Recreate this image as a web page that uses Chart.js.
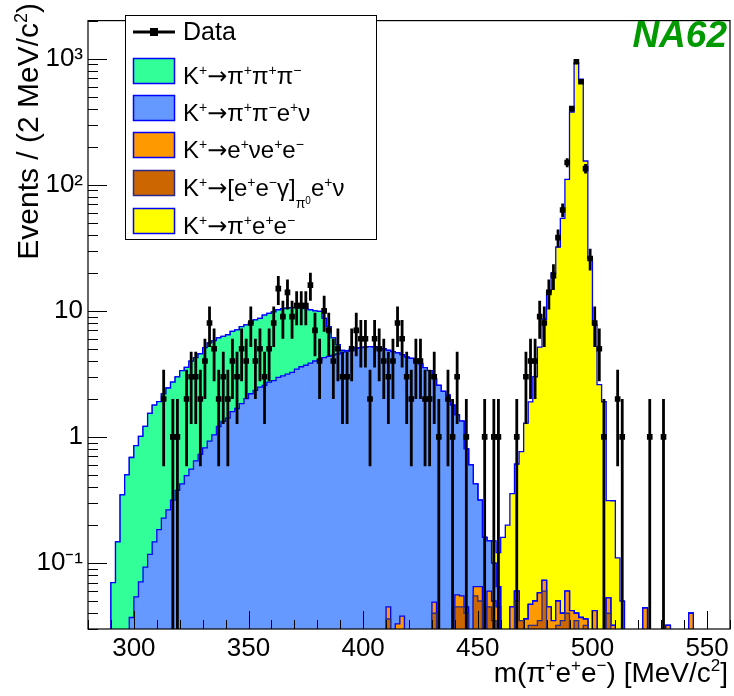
<!DOCTYPE html>
<html>
<head>
<meta charset="utf-8">
<script src="https://cdn.jsdelivr.net/npm/chart.js@4.4.1/dist/chart.umd.min.js"></script>
<style>
  html, body { margin: 0; padding: 0; background: #fff; }
</style>
</head>
<body>
<canvas id="massChart" width="734" height="696"></canvas>
<script>
const FONT = '"Liberation Sans", Arial, Helvetica, sans-serif';
const ARROW_FONT = '"DejaVu Sans", sans-serif';

// histogram binning: 2 MeV bins from 280 to 560
const binLow = 280;
const binWidth = 2;
const nBins = 140;

// data counts per bin
const dataCounts = [
  0, 0, 0, 0, 0, 0, 0, 0, 0, 0,
  0, 0, 0, 0, 0, 0, 2, 0, 1, 1,
  0, 2, 3, 3, 2, 4, 8, 5, 2, 3,
  2, 4, 3, 5, 4, 8, 4, 5, 3, 5,
  8, 15, 9, 14, 9, 11, 11, 11, 16, 7,
  4, 10, 7, 4, 5, 3, 3, 5, 7, 6,
  6, 2, 6, 5, 4, 3, 4, 8, 6, 3,
  2, 4, 4, 2, 2, 3, 1, 0, 2, 1,
  3, 0, 1, 0, 0, 0, 1, 0, 1, 1,
  0, 0, 0, 1, 0, 3, 4, 4, 9, 8,
  14, 19, 38, 63, 150, 401, 944, 655, 134, 26,
  8, 5, 1, 0, 0, 2, 1, 0, 0, 0,
  0, 0, 1, 0, 0, 1, 0, 0, 0, 0,
  0, 0, 0, 0, 0, 0, 0, 0, 0, 0
];

// K+ -> pi+ pi+ pi-
const k3pi = [
  0, 0, 0, 0, 0, 0.07, 0.147, 0.347, 0.50, 0.65,
  0.80, 0.94, 1.12, 1.42, 1.64, 1.72, 1.97, 2.18, 2.40, 2.62,
  2.93, 3.07, 3.44, 3.61, 3.84, 4.28, 4.65, 4.76, 4.89, 4.94,
  5.05, 5.27, 5.39, 5.66, 5.73, 5.78, 6.13, 6.24, 6.69, 6.83,
  7.00, 7.23, 7.35, 7.35, 7.35, 7.15, 6.90, 6.70, 6.35, 6.00,
  5.80, 4.45, 3.15, 1.65, 0.85, 0.15, 0, 0, 0, 0,
  0, 0, 0, 0, 0, 0, 0, 0, 0, 0,
  0, 0, 0, 0, 0, 0, 0, 0, 0, 0,
  0, 0, 0, 0, 0, 0, 0, 0, 0, 0,
  0, 0, 0, 0, 0, 0, 0, 0, 0, 0,
  0, 0, 0, 0, 0, 0, 0, 0, 0, 0,
  0, 0, 0, 0, 0, 0, 0, 0, 0, 0,
  0, 0, 0, 0, 0, 0, 0, 0, 0, 0,
  0, 0, 0, 0, 0, 0, 0, 0, 0, 0
];

// K+ -> pi+ pi- e+ nu
const kpipienu = [
  0, 0, 0, 0, 0, 0, 0, 0, 0, 0.037,
  0.054, 0.071, 0.093, 0.117, 0.147, 0.184, 0.227, 0.264, 0.315, 0.377,
  0.425, 0.494, 0.556, 0.646, 0.728, 0.82, 0.925, 1.04, 1.21, 1.33,
  1.41, 1.59, 1.68, 1.84, 2.01, 2.2, 2.34, 2.48, 2.56, 2.72,
  2.80, 2.97, 3.05, 3.15, 3.25, 3.45, 3.6, 3.7, 3.85, 4.0,
  4.1, 4.25, 4.35, 4.45, 4.55, 4.7, 4.8, 4.95, 5.05, 5.1,
  5.15, 5.2, 5.15, 5.1, 5.0, 4.81, 4.75, 4.6, 4.45, 4.3,
  4.2, 4.0, 3.8, 3.55, 3.35, 2.85, 2.56, 2.3, 2.14, 1.79,
  1.44, 1.28, 0.76, 0.6, 0.36, 0.25, 0.16, 0.09, 0.05, 0.02,
  0.01, 0.01, 0, 0, 0, 0, 0, 0, 0, 0,
  0, 0, 0, 0, 0, 0, 0, 0, 0, 0,
  0, 0, 0, 0, 0, 0, 0, 0, 0, 0,
  0, 0, 0, 0, 0, 0, 0, 0, 0, 0,
  0, 0, 0, 0, 0, 0, 0, 0, 0, 0
];

// K+ -> e+ nu e+ e-
const kenuee = [
  0, 0, 0, 0, 0, 0, 0, 0, 0, 0,
  0, 0, 0, 0, 0, 0, 0, 0, 0, 0,
  0, 0, 0, 0, 0, 0, 0, 0, 0, 0,
  0, 0, 0, 0, 0, 0, 0, 0, 0, 0,
  0, 0, 0, 0, 0, 0, 0, 0, 0, 0,
  0, 0, 0, 0, 0, 0, 0, 0, 0, 0,
  0, 0, 0, 0, 0, 0.009, 0, 0.033, 0.038, 0,
  0, 0, 0, 0, 0, 0.009, 0, 0, 0, 0,
  0.011, 0.01, 0.005, 0, 0.01, 0.015, 0, 0.015, 0.015, 0.045,
  0, 0, 0.045, 0.01, 0, 0.036, 0.015, 0.018, 0.023, 0.013,
  0.045, 0.035, 0.018, 0.005, 0.02, 0.042, 0.005, 0.037, 0.004, 0,
  0.042, 0, 0, 0.013, 0.032, 0, 0, 0, 0, 0,
  0, 0.044, 0, 0, 0, 0, 0.032, 0, 0, 0,
  0, 0.04, 0, 0, 0, 0, 0, 0, 0, 0
];

// K+ -> [e+ e- gamma]_pi0 e+ nu
const kpi0d = [
  0, 0, 0, 0, 0, 0, 0, 0, 0, 0,
  0, 0, 0, 0, 0, 0, 0, 0, 0, 0,
  0, 0, 0, 0, 0, 0, 0, 0, 0, 0,
  0, 0, 0, 0, 0, 0, 0, 0, 0, 0,
  0, 0, 0, 0, 0, 0, 0, 0, 0, 0,
  0, 0, 0, 0, 0, 0, 0, 0, 0, 0,
  0, 0, 0, 0, 0, 0.036, 0, 0, 0, 0,
  0, 0, 0, 0, 0, 0.04, 0, 0, 0, 0,
  0.045, 0.045, 0.04, 0, 0.055, 0.05, 0, 0.045, 0.035, 0,
  0, 0, 0, 0.05, 0.035, 0, 0.032, 0.032, 0.035, 0.06,
  0, 0, 0.032, 0.035, 0.04, 0, 0.035, 0, 0.032, 0,
  0, 0, 0, 0.04, 0, 0, 0, 0, 0, 0,
  0, 0, 0, 0, 0, 0, 0, 0, 0, 0,
  0, 0, 0, 0, 0, 0, 0, 0, 0, 0
];

// K+ -> pi+ e+ e- (signal)
const kpiee = [
  0, 0, 0, 0, 0, 0, 0, 0, 0, 0,
  0, 0, 0, 0, 0, 0, 0, 0, 0, 0,
  0, 0, 0, 0, 0, 0, 0, 0, 0, 0,
  0, 0, 0, 0, 0, 0, 0, 0, 0, 0,
  0, 0, 0, 0, 0, 0, 0, 0, 0, 0,
  0, 0, 0, 0, 0, 0, 0, 0, 0, 0,
  0, 0, 0, 0, 0, 0, 0, 0, 0, 0,
  0, 0, 0, 0, 0, 0, 0, 0, 0, 0,
  0, 0, 0, 0, 0, 0, 0, 0, 0.05, 0.056,
  0.15, 0.19, 0.31, 0.55, 0.73, 1.25, 1.85, 2.95, 5.1, 8.5,
  14, 20, 32, 54, 110, 377, 925, 688, 154, 26,
  7.7, 2.6, 1.9, 0.26, 0.28, 0.11, 0.05, 0, 0, 0,
  0, 0, 0, 0, 0, 0, 0, 0, 0, 0,
  0, 0, 0, 0, 0, 0, 0, 0, 0, 0
];

const xTickValues = [300, 350, 400, 450, 500, 550];
const yTickValues = [0.1, 1, 10, 100, 1000];
const yTickLabels = ['10\u207B\u00B9', '1', '10', '10\u00B2', '10\u00B3'];

// stack order bottom -> top (like THStack)
const layers = [kpi0d, kenuee, kpipienu, k3pi, kpiee];
let running = new Array(nBins).fill(0);
const cumulative = layers.map(arr => (running = running.map((v, i) => v + arr[i])));

const FLOOR = 1e-4; // below axis minimum, keeps log scale happy
function histPoints(vals) {
  const pts = vals.map((v, i) => ({ x: binLow + i * binWidth, y: Math.max(v, FLOOR) }));
  pts.push({ x: binLow + nBins * binWidth, y: Math.max(vals[nBins - 1], FLOOR) });
  return pts;
}

function histDataset(vals, fillColor, lineColor) {
  return {
    data: histPoints(vals),
    stepped: true,
    fill: 'start',
    backgroundColor: fillColor,
    borderColor: lineColor,
    borderWidth: 1.3,
    pointRadius: 0,
    tension: 0
  };
}

const dataPoints = dataCounts
  .map((n, i) => ({ x: binLow + binWidth * (i + 0.5), y: n }))
  .filter(p => p.y > 0);

// superscript / subscript text like ROOT's TLatex
// level: 0 normal, 1 superscript, -1 subscript, 2 superscript of subscript
const SCRIPT = { 0: [1, 0], 1: [0.6, -0.38], [-1]: [0.58, 0.52], 2: [0.42, 0.34] };
function partFont(size, l, fam) {
  return Math.round(size * SCRIPT[l][0]) + 'px ' + (fam || FONT);
}
function richWidth(ctx, parts, size) {
  let w = 0;
  parts.forEach(([t, l, fam]) => {
    ctx.font = partFont(size, l, fam);
    w += ctx.measureText(t).width;
  });
  return w;
}
function drawRich(ctx, parts, x, y, size, align) {
  let cx = align === 'right' ? x - richWidth(ctx, parts, size) : x;
  ctx.textAlign = 'left';
  ctx.textBaseline = 'alphabetic';
  parts.forEach(([t, l, fam]) => {
    ctx.font = partFont(size, l, fam);
    ctx.fillText(t, cx, y + SCRIPT[l][1] * size);
    cx += ctx.measureText(t).width;
  });
}

const ARROW = ['\u2192', 0, ARROW_FONT];
const legendRows = [
  { parts: [['K', 0], ['+', 1], ARROW, ['\u03C0', 0], ['+', 1], ['\u03C0', 0], ['+', 1], ['\u03C0', 0], ['\u2212', 1]], fill: '#33ff99', line: '#0000ff' },
  { parts: [['K', 0], ['+', 1], ARROW, ['\u03C0', 0], ['+', 1], ['\u03C0', 0], ['\u2212', 1], ['e', 0], ['+', 1], ['\u03BD', 0]], fill: '#6699ff', line: '#0000ff' },
  { parts: [['K', 0], ['+', 1], ARROW, ['e', 0], ['+', 1], ['\u03BDe', 0], ['+', 1], ['e', 0], ['\u2212', 1]], fill: '#ff9900', line: '#0000ff' },
  { parts: [['K', 0], ['+', 1], ARROW, ['[e', 0], ['+', 1], ['e', 0], ['\u2212', 1], ['\u03B3]', 0], ['\u03C0', -1], ['0', 2], ['e', 0], ['+', 1], ['\u03BD', 0]], fill: '#cc6600', line: '#2a2a8a' },
  { parts: [['K', 0], ['+', 1], ARROW, ['\u03C0', 0], ['+', 1], ['e', 0], ['+', 1], ['e', 0], ['\u2212', 1]], fill: '#ffff00', line: '#0000ff' }
];

const rootPlugin = {
  id: 'rootStyle',
  afterDatasetsDraw(chart) {
    const { ctx, chartArea: a, scales: { x, y } } = chart;
    ctx.save();
    // error bars
    ctx.beginPath();
    ctx.rect(a.left, a.top, a.right - a.left, a.bottom - a.top);
    ctx.clip();
    ctx.strokeStyle = '#000';
    ctx.lineWidth = 2.8;
    ctx.beginPath();
    dataPoints.forEach(p => {
      const e = Math.sqrt(p.y);
      const px = x.getPixelForValue(p.x);
      const top = y.getPixelForValue(p.y + e);
      const bot = p.y - e > 0 ? y.getPixelForValue(p.y - e) : a.bottom + 2;
      ctx.moveTo(px, top); ctx.lineTo(px, bot);
      const py = y.getPixelForValue(p.y);
      ctx.moveTo(x.getPixelForValue(p.x - binWidth / 2), py);
      ctx.lineTo(x.getPixelForValue(p.x + binWidth / 2), py);
    });
    ctx.stroke();
    ctx.restore();

    // ticks inside the frame
    ctx.save();
    ctx.strokeStyle = '#000';
    ctx.lineWidth = 1;
    ctx.beginPath();
    for (let v = 280; v <= 560; v += 10) {
      const px = Math.round(x.getPixelForValue(v)) + 0.5;
      const len = v % 50 === 0 ? 18 : 9;
      ctx.moveTo(px, a.bottom); ctx.lineTo(px, a.bottom - len);
    }
    for (let e = -2; e <= 3; e++) {
      for (let k = 1; k <= 9; k++) {
        const v = k * Math.pow(10, e);
        if (v < y.min || v > y.max) continue;
        const py = Math.round(y.getPixelForValue(v)) + 0.5;
        ctx.moveTo(a.left, py); ctx.lineTo(a.left + (k === 1 ? 19 : 10), py);
      }
    }
    ctx.stroke();
    ctx.lineWidth = 1.2;
    ctx.strokeRect(a.left, a.top, a.right - a.left, a.bottom - a.top);
    ctx.restore();
  },
  afterDraw(chart) {
    const { ctx } = chart;
    ctx.save();
    ctx.fillStyle = '#000';

    // axis titles
    drawRich(ctx, [['m(\u03C0', 0], ['+', 1], ['e', 0], ['+', 1], ['e', 0], ['\u2212', 1], [') [MeV/c', 0], ['2', 1], [']', 0]], 728, 682, 28, 'right');
    ctx.save();
    ctx.translate(38, 3);
    ctx.rotate(-Math.PI / 2);
    drawRich(ctx, [['Events / (2 MeV/c', 0], ['2', 1], [')', 0]], 0, 0, 30, 'right');
    ctx.restore();

    // legend box
    ctx.fillStyle = '#fff';
    ctx.fillRect(125, 15, 252, 225);
    ctx.strokeStyle = '#000';
    ctx.lineWidth = 1;
    ctx.strokeRect(125.5, 15.5, 251, 224);

    ctx.lineWidth = 2.8;
    ctx.beginPath();
    ctx.moveTo(133, 32); ctx.lineTo(175, 32);
    ctx.stroke();
    ctx.fillStyle = '#000';
    ctx.fillRect(150, 28, 8, 8);
    drawRich(ctx, [['Data', 0]], 183, 40, 25, 'left');

    const swatchTop = [58, 95, 132, 170, 208];
    legendRows.forEach((r, i) => {
      ctx.fillStyle = r.fill;
      ctx.fillRect(133, swatchTop[i], 42, 26);
      ctx.strokeStyle = r.line;
      ctx.lineWidth = 1.5;
      ctx.strokeRect(133.5, swatchTop[i] + 0.5, 41, 25);
      ctx.fillStyle = '#000';
      drawRich(ctx, r.parts, 183, swatchTop[i] + 26, 24, 'left');
    });

    // experiment label
    ctx.fillStyle = '#009a00';
    ctx.font = 'italic bold 37px ' + FONT;
    ctx.textAlign = 'right';
    ctx.textBaseline = 'alphabetic';
    ctx.fillText('NA62', 727, 47);
    ctx.restore();
  }
};

new Chart(document.getElementById('massChart'), {
  type: 'line',
  data: {
    datasets: [
      {
        label: 'Data',
        data: dataPoints,
        showLine: false,
        pointRadius: 4,
        pointStyle: 'rect',
        pointBackgroundColor: '#000',
        pointBorderColor: '#000',
        pointBorderWidth: 0
      },
      histDataset(cumulative[0], '#cc6600', '#2a2a8a'),
      histDataset(cumulative[1], '#ff9900', '#0000ff'),
      histDataset(cumulative[2], '#6699ff', '#0000ff'),
      histDataset(cumulative[3], '#33ff99', '#0000ff'),
      histDataset(cumulative[4], '#ffff00', '#0000ff')
    ]
  },
  options: {
    responsive: false,
    animation: false,
    events: [],
    layout: { padding: { top: 10, right: 3, left: 0, bottom: 0 } },
    plugins: {
      legend: { display: false },
      tooltip: { enabled: false }
    },
    scales: {
      x: {
        type: 'linear',
        min: 280,
        max: 560,
        afterBuildTicks: s => { s.ticks = xTickValues.map(v => ({ value: v })); },
        afterFit: s => { s.height = 67; },
        grid: { display: false, drawTicks: false },
        border: { display: false },
        ticks: {
          autoSkip: false,
          maxRotation: 0,
          padding: 4,
          color: '#000',
          font: { family: FONT, size: 26 },
          callback: v => String(v)
        }
      },
      y: {
        type: 'logarithmic',
        min: 0.03,
        max: 2000,
        afterBuildTicks: s => { s.ticks = yTickValues.map(v => ({ value: v })); },
        afterFit: s => { s.width = 88; },
        grid: { display: false, drawTicks: false },
        border: { display: false },
        ticks: {
          autoSkip: false,
          padding: 5,
          color: '#000',
          font: { family: FONT, size: 26 },
          callback: (v, i) => yTickLabels[i]
        }
      }
    }
  },
  plugins: [rootPlugin]
});
</script>
</body>
</html>
